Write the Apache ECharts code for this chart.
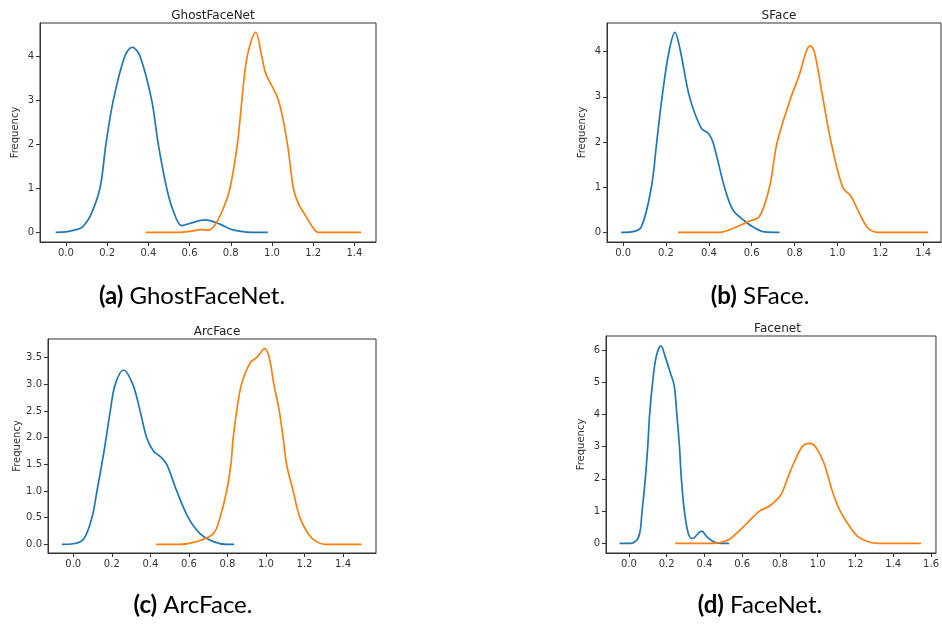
<!DOCTYPE html>
<html>
<head>
<meta charset="utf-8">
<script src="https://cdn.jsdelivr.net/npm/echarts@6/dist/echarts.min.js"></script>
<style>
  html, body { margin: 0; padding: 0; background: #fff; }
  #chart { width: 942px; height: 625px; }
</style>
</head>
<body>
<div id="chart"></div>
<script>
// curves, [x, density]
const ghostBlue = [[-0.05,0],[0,0.01],[0.05,0.06],[0.08,0.12],[0.117,0.36],[0.165,1.0],[0.194,2.0],[0.23,3.0],[0.286,4.0],[0.322,4.2],[0.359,4.0],[0.416,3.0],[0.448,2.0],[0.489,1.0],[0.52,0.5],[0.562,0.15],[0.6,0.2],[0.675,0.28],[0.75,0.18],[0.8,0.07],[0.85,0.02],[0.9,0],[0.98,0]];
const ghostOrange = [[0.387,0],[0.55,0],[0.6,0.02],[0.659,0.06],[0.69,0.05],[0.72,0.15],[0.76,0.5],[0.796,1.0],[0.832,2.0],[0.854,3.0],[0.88,4.0],[0.921,4.54],[0.95,4.0],[0.97,3.6],[1.031,3.0],[1.075,2.0],[1.104,1.0],[1.128,0.65],[1.16,0.4],[1.2,0.1],[1.225,0],[1.432,0]];
const sfaceBlue = [[-0.009,0],[0.04,0.01],[0.085,0.12],[0.132,1.0],[0.157,2.0],[0.182,3.0],[0.214,4.0],[0.242,4.43],[0.268,4.0],[0.31,3.0],[0.365,2.3],[0.396,2.2],[0.419,2.0],[0.473,1.0],[0.512,0.5],[0.567,0.25],[0.613,0.1],[0.66,0.01],[0.73,0]];
const sfaceOrange = [[0.256,0],[0.45,0],[0.52,0.1],[0.59,0.25],[0.636,0.35],[0.683,1.0],[0.719,2.0],[0.784,3.0],[0.823,3.5],[0.854,4.0],[0.872,4.13],[0.892,4.0],[0.931,3.0],[0.97,2.0],[1.024,1.0],[1.063,0.8],[1.094,0.5],[1.141,0.1],[1.187,0],[1.423,0]];
const arcBlue = [[-0.059,0],[0,0.01],[0.054,0.1],[0.097,0.5],[0.123,1.0],[0.148,1.5],[0.171,2.0],[0.192,2.5],[0.218,3.0],[0.261,3.27],[0.309,3.0],[0.347,2.5],[0.381,2.0],[0.416,1.75],[0.45,1.65],[0.485,1.5],[0.537,1.0],[0.597,0.5],[0.658,0.2],[0.727,0.05],[0.796,0],[0.835,0]];
const arcOrange = [[0.43,0],[0.55,0],[0.64,0.05],[0.727,0.2],[0.761,0.5],[0.796,1.0],[0.818,1.5],[0.83,2.0],[0.848,2.5],[0.873,3.0],[0.917,3.4],[0.951,3.5],[0.994,3.67],[1.017,3.5],[1.041,3.0],[1.069,2.5],[1.089,2.0],[1.107,1.5],[1.141,1.0],[1.176,0.5],[1.219,0.2],[1.262,0.05],[1.305,0],[1.495,0]];
const facenetBlue = [[-0.049,0],[0.009,0],[0.052,0.2],[0.07,1.0],[0.087,2.0],[0.1,3.0],[0.11,4.0],[0.126,5.0],[0.145,5.8],[0.17,6.13],[0.192,5.8],[0.219,5.3],[0.24,4.9],[0.254,4.0],[0.268,3.0],[0.278,2.0],[0.294,1.0],[0.315,0.3],[0.337,0.15],[0.385,0.38],[0.414,0.2],[0.455,0.03],[0.498,0],[0.53,0]];
const facenetOrange = [[0.245,0],[0.45,0],[0.525,0.1],[0.568,0.3],[0.621,0.6],[0.691,1.0],[0.743,1.15],[0.804,1.5],[0.839,2.0],[0.874,2.5],[0.918,3.0],[0.956,3.1],[0.988,3.0],[1.032,2.5],[1.058,2.0],[1.084,1.5],[1.119,1.0],[1.172,0.5],[1.215,0.2],[1.268,0.05],[1.32,0],[1.547,0]];

const panelTitles = ['GhostFaceNet','SFace','ArcFace','Facenet'];
const captionTags = ['(a)','(b)','(c)','(d)'];
const captionNames = ['GhostFaceNet.','SFace.','ArcFace.','FaceNet.'];
const xTicks14 = [0,0.2,0.4,0.6,0.8,1.0,1.2,1.4];
const xTicks16 = [0,0.2,0.4,0.6,0.8,1.0,1.2,1.4,1.6];
const yTicksA = [0,1,2,3,4];
const yTicksB = [0,1,2,3,4];
const yTicksC = [0,0.5,1.0,1.5,2.0,2.5,3.0,3.5];
const yTicksD = [0,1,2,3,4,5,6];

const panels = [
  {grid:{left:40,top:23,width:336,height:219}, x:[-0.126,1.505], y:[-0.22,4.75], xt:xTicks14, yt:yTicksA, yd:0, data:[ghostBlue,ghostOrange], cap:[192,296]},
  {grid:{left:607,top:23,width:334,height:219}, x:[-0.075,1.483], y:[-0.215,4.636], xt:xTicks14, yt:yTicksB, yd:0, data:[sfaceBlue,sfaceOrange], cap:[760,296]},
  {grid:{left:48,top:339,width:328,height:214}, x:[-0.131,1.571], y:[-0.163,3.851], xt:xTicks14, yt:yTicksC, yd:1, data:[arcBlue,arcOrange], cap:[193,605]},
  {grid:{left:606,top:336,width:333,height:217}, x:[-0.121,1.626], y:[-0.30,6.433], xt:xTicks16, yt:yTicksD, yd:0, data:[facenetBlue,facenetOrange], cap:[760,605]}
];

const tickFont = 'DejaVu Sans';
const colors = ['#1f77b4','#ff7f0e'];

const grid = [], xAxis = [], yAxis = [], series = [], title = [], graphic = [];
panels.forEach((p, i) => {
  grid.push(Object.assign({show:true, borderColor:'#333', borderWidth:1, backgroundColor:'#fff'}, p.grid));
  xAxis.push({
    type:'value', gridIndex:i, min:p.x[0], max:p.x[1],
    axisLine:{show:true, onZero:false, lineStyle:{color:'#333'}},
    axisTick:{show:true, length:4, lineStyle:{color:'#333'}, customValues:p.xt},
    axisLabel:{color:'#333', fontSize:10, fontFamily:tickFont, margin:6, customValues:p.xt, formatter:v => v.toFixed(1)},
    splitLine:{show:false}
  });
  yAxis.push({
    type:'value', gridIndex:i, min:p.y[0], max:p.y[1],
    name:'Frequency', nameLocation:'middle', nameGap:20,
    nameTextStyle:{color:'#333', fontSize:10, fontFamily:tickFont},
    axisLine:{show:true, onZero:false, lineStyle:{color:'#333'}},
    axisTick:{show:true, length:4, lineStyle:{color:'#333'}, customValues:p.yt},
    axisLabel:{color:'#333', fontSize:10, fontFamily:tickFont, margin:6, customValues:p.yt, formatter:v => v.toFixed(p.yd)},
    splitLine:{show:false}
  });
  p.data.forEach((d, k) => {
    series.push({
      type:'line', xAxisIndex:i, yAxisIndex:i, data:d, smooth:0.35,
      symbol:'none', lineStyle:{color:colors[k], width:1.7}, itemStyle:{color:colors[k]}
    });
  });
  title.push({
    text:panelTitles[i], left:p.grid.left + p.grid.width/2, top:p.grid.top - 18, textAlign:'center',
    textStyle:{fontSize:12, fontWeight:'normal', color:'#222', fontFamily:tickFont}
  });
  graphic.push({
    type:'text', x:p.cap[0], y:p.cap[1],
    style:{
      text:'{b|' + captionTags[i] + '} ' + captionNames[i],
      rich:{b:{fontWeight:'bold', fontSize:24, fontFamily:'Lato'}},
      fontSize:24, fontFamily:'Lato', fill:'#000', align:'center', verticalAlign:'middle'
    }
  });
});

const chart = echarts.init(document.getElementById('chart'));
chart.setOption({
  animation:false,
  backgroundColor:'#fff',
  title, grid, xAxis, yAxis, series, graphic
});
</script>
</body>
</html>
